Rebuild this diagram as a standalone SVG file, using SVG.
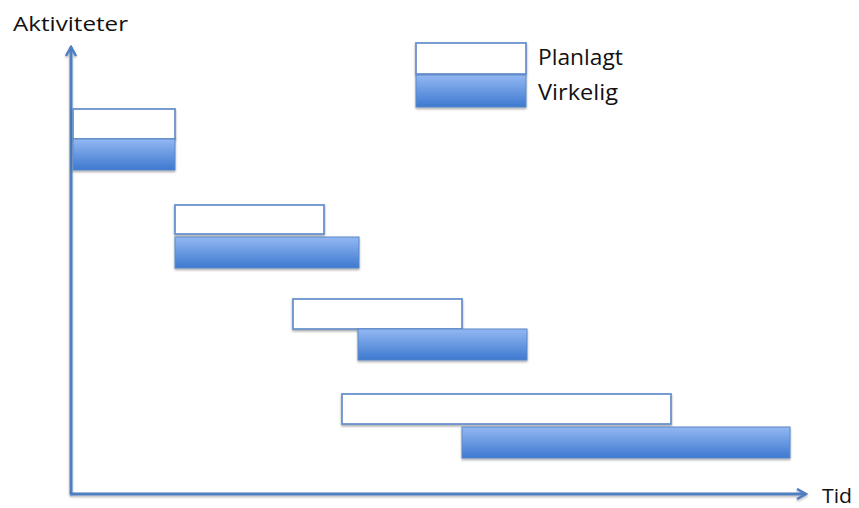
<svg xmlns="http://www.w3.org/2000/svg" width="859" height="508" viewBox="0 0 859 508">
  <defs>
    <linearGradient id="actualFill" x1="0" y1="0" x2="0" y2="1">
      <stop offset="0" stop-color="#93b8f2"/>
      <stop offset="1" stop-color="#3d79d0"/>
    </linearGradient>
    <filter id="shadow" x="-5%" y="-20%" width="110%" height="150%">
      <feDropShadow dx="0" dy="1.5" stdDeviation="1.2" flood-color="#000" flood-opacity="0.35"/>
    </filter>
    <filter id="axisShadow" filterUnits="userSpaceOnUse" x="0" y="0" width="859" height="508">
      <feDropShadow dx="0" dy="1.5" stdDeviation="1.2" flood-color="#000" flood-opacity="0.3"/>
    </filter>
    <marker id="arrow" viewBox="0 0 12 12" refX="10" refY="6" markerWidth="12" markerHeight="12" markerUnits="userSpaceOnUse" orient="auto">
      <path d="M1,1 L10,6 L1,11" fill="none" stroke="#4f7fc0" stroke-width="2.5" stroke-linejoin="miter"/>
    </marker>
  </defs>
  <style>
    .planned { fill: #ffffff; stroke: #6b93cd; stroke-width: 1.8; filter: url(#shadow); }
    .actual { fill: url(#actualFill); stroke: #5a87c8; stroke-width: 1; filter: url(#shadow); }
    .axis { stroke: #4f7fc0; stroke-width: 3; fill: none; filter: url(#axisShadow); }
    .label { font-family: "Open Sans", "Liberation Sans", sans-serif; fill: #111; }
  </style>

  <rect width="859" height="508" fill="#ffffff"/>

  <!-- axes -->
  <g id="connectors">
    <path class="axis" d="M71,494 L71,47" marker-end="url(#arrow)"/>
    <path class="axis" d="M70,494 L806,494" marker-end="url(#arrow)"/>
  </g>

  <text class="label" x="13" y="31" font-size="20" textLength="115" lengthAdjust="spacingAndGlyphs">Aktiviteter</text>
  <text class="label" x="822" y="503" font-size="20" textLength="30" lengthAdjust="spacingAndGlyphs">Tid</text>

  <!-- legend -->
  <g id="legend">
    <rect class="planned" x="416" y="43" width="110" height="31"/>
    <rect class="actual" x="416" y="75" width="110" height="32"/>
    <text class="label" x="538" y="65" font-size="21" textLength="85" lengthAdjust="spacingAndGlyphs">Planlagt</text>
    <text class="label" x="538" y="100" font-size="21" textLength="80" lengthAdjust="spacingAndGlyphs">Virkelig</text>
  </g>

  <!-- activity 1 -->
  <g id="activity1">
    <rect class="planned" x="73" y="109" width="102" height="30"/>
    <rect class="actual" x="73" y="139" width="102" height="31"/>
  </g>

  <!-- activity 2 -->
  <g id="activity2">
    <rect class="planned" x="175" y="205" width="149" height="29"/>
    <rect class="actual" x="175" y="237" width="184" height="31"/>
  </g>

  <!-- activity 3 -->
  <g id="activity3">
    <rect class="planned" x="293" y="299" width="169" height="30"/>
    <rect class="actual" x="358" y="329" width="169" height="31"/>
  </g>

  <!-- activity 4 -->
  <g id="activity4">
    <rect class="planned" x="342" y="394" width="329" height="30"/>
    <rect class="actual" x="462" y="427" width="328" height="31"/>
  </g>
</svg>
